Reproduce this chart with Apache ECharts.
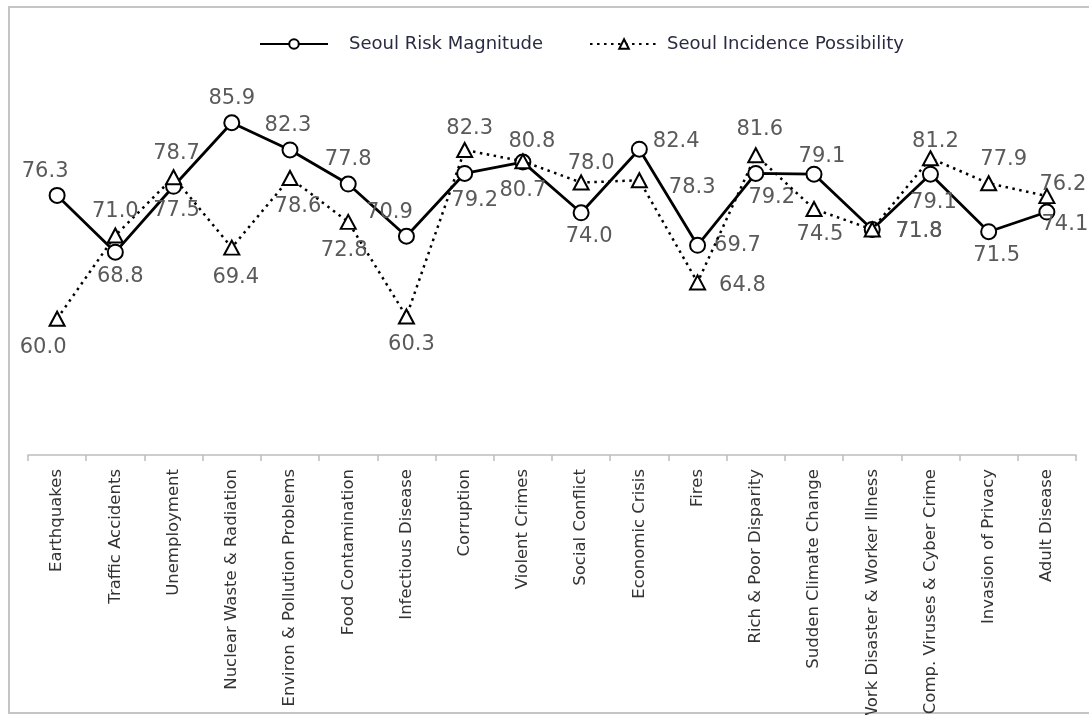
<!DOCTYPE html>
<html>
<head>
<meta charset="utf-8">
<script src="https://cdn.jsdelivr.net/npm/echarts@6/dist/echarts.min.js"></script>
<style>
  html, body { margin: 0; padding: 0; background: #fff; }
  #chart { width: 1089px; height: 715px; }
</style>
</head>
<body>
<div id="chart"></div>
<script>
// Risk categories (x axis)
const categories = [
  'Earthquakes', 'Traffic Accidents', 'Unemployment', 'Nuclear Waste & Radiation',
  'Environ & Pollution Problems', 'Food Contamination', 'Infectious Disease', 'Corruption',
  'Violent Crimes', 'Social Conflict', 'Economic Crisis', 'Fires',
  'Rich & Poor Disparity', 'Sudden Climate Change', 'Work Disaster & Worker Illness',
  'Comp. Viruses & Cyber Crime', 'Invasion of Privacy', 'Adult Disease'
];

// Series names
const seriesNames = ['Seoul Risk Magnitude', 'Seoul Incidence Possibility'];

// Series values
const riskMagnitude = [76.3, 68.8, 77.5, 85.9, 82.3, 77.8, 70.9, 79.2, 80.7, 74.0, 82.4, 69.7, 79.2, 79.1, 71.8, 79.1, 71.5, 74.1];
const incidencePossibility = [60.0, 71.0, 78.7, 69.4, 78.6, 72.8, 60.3, 82.3, 80.8, 78.0, 78.3, 64.8, 81.6, 74.5, 71.8, 81.2, 77.9, 76.2];

// Where each value label sits relative to its marker: [position, dx, dy]
const riskLabelPlacement = [
  ['top', -12, 0], ['bottom', 5, 0], ['bottom', 3, 0], ['top', 0, 0], ['top', -2, 0],
  ['top', 0, 0], ['top', -17, 0], ['bottom', 10, 3], ['bottom', 0, 4], ['bottom', 8, 0],
  ['right', 0, -8], ['right', 3, 0], ['bottom', 16, 0], ['top', 8, 6], ['right', 10, 2],
  ['bottom', 3, 4], ['bottom', 8, 0], ['bottom', 18, -11]
];
const incidenceLabelPlacement = [
  ['bottom', -14, 5], ['top', 0, 0], ['top', 3, 0], ['bottom', 4, 6], ['bottom', 8, 5],
  ['bottom', -4, 5], ['bottom', 5, 5], ['top', 5, 2], ['top', 9, 4], ['top', 10, 4],
  ['right', 16, 7], ['right', 8, 3], ['top', 4, -2], ['bottom', 6, 2], ['right', 10, 2],
  ['top', 5, 7], ['top', 15, 0], ['top', 16, 12]
];

function withLabels(values, placement) {
  return values.map((v, i) => ({
    value: v,
    label: { position: placement[i][0], offset: [placement[i][1], placement[i][2]] }
  }));
}

const labelStyle = {
  show: true,
  fontFamily: 'DejaVu Sans',
  fontSize: 21,
  color: '#5a5a5a',
  distance: 5,
  formatter: p => p.value.toFixed(1)
};

const legendText = {
  fontFamily: 'DejaVu Sans',
  fontSize: 18,
  color: '#2a2a40'
};

const chart = echarts.init(document.getElementById('chart'), null, { renderer: 'canvas' });

chart.setOption({
  animation: false,
  backgroundColor: '#ffffff',
  graphic: [{
    type: 'rect',
    shape: { x: 9, y: 7, width: 1100, height: 706 },
    style: { fill: 'none', stroke: '#c4c4c4', lineWidth: 2 },
    silent: true,
    z: -1
  }],
  legend: {
    top: 30,
    left: 254,
    itemWidth: 68,
    itemHeight: 12,
    itemGap: 46,
    data: [
      { name: seriesNames[0], textStyle: Object.assign({ padding: [0, 0, 0, 16] }, legendText) },
      { name: seriesNames[1], textStyle: Object.assign({ padding: [0, 0, 0, 4] }, legendText) }
    ]
  },
  grid: {
    left: 28,
    right: 13,
    top: 16,
    bottom: 260,
    containLabel: false,
    outerBoundsMode: 'none'
  },
  xAxis: {
    type: 'category',
    data: categories,
    boundaryGap: true,
    axisLine: { show: true, lineStyle: { color: '#bdbdbd', width: 1.5 } },
    axisTick: { show: true, alignWithLabel: false, length: 6, lineStyle: { color: '#bdbdbd', width: 1.5 } },
    axisLabel: {
      interval: 0,
      rotate: 90,
      margin: 14,
      fontFamily: 'DejaVu Sans',
      fontSize: 16.5,
      color: '#333333'
    },
    splitLine: { show: false }
  },
  yAxis: {
    type: 'value',
    min: 42,
    max: 100,
    show: false,
    splitLine: { show: false }
  },
  series: [
    {
      name: seriesNames[0],
      type: 'line',
      data: withLabels(riskMagnitude, riskLabelPlacement),
      symbol: 'circle',
      symbolSize: 15,
      lineStyle: { color: '#000000', width: 2.8, type: 'solid' },
      itemStyle: { color: '#ffffff', borderColor: '#000000', borderWidth: 2 },
      label: labelStyle,
      z: 2
    },
    {
      name: seriesNames[1],
      type: 'line',
      data: withLabels(incidencePossibility, incidenceLabelPlacement),
      symbol: 'triangle',
      symbolSize: [15, 14],
      lineStyle: { color: '#000000', width: 2.5, type: [2.5, 4.5] },
      itemStyle: { color: '#ffffff', borderColor: '#000000', borderWidth: 2 },
      label: labelStyle,
      z: 3
    }
  ]
});
</script>
</body>
</html>
